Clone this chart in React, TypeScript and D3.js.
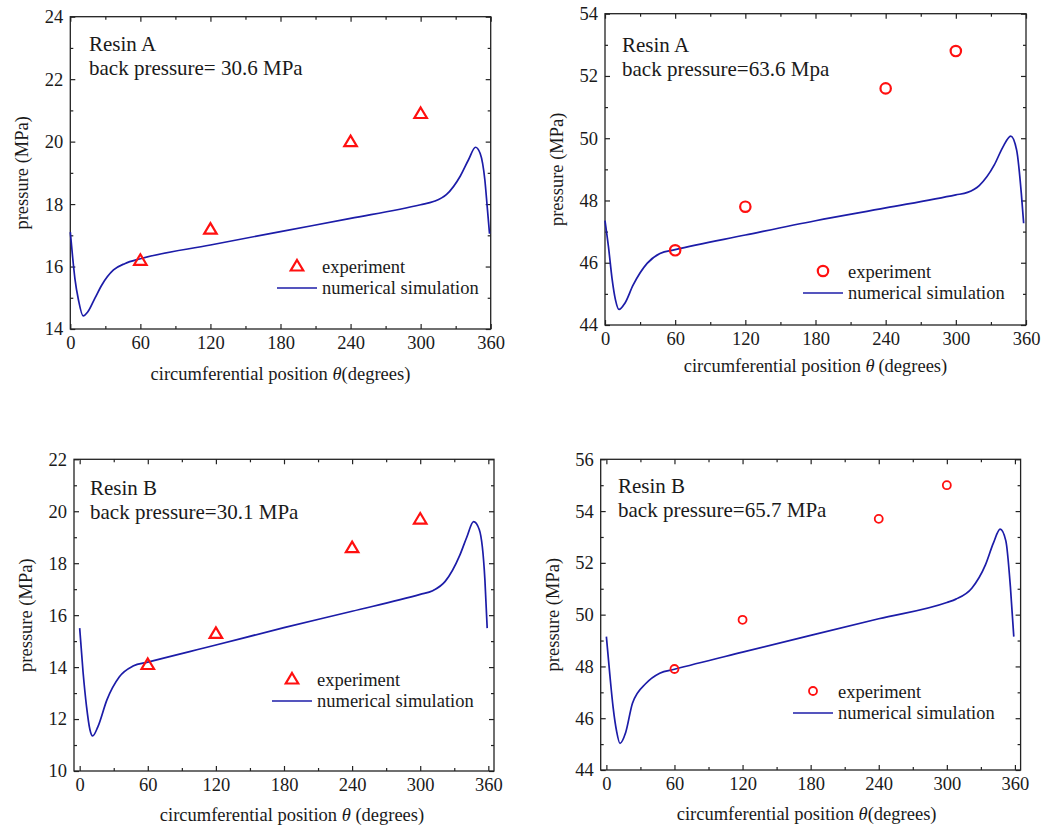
import React, { useRef, useEffect } from 'react';
import * as d3 from 'd3';

// experiment positions (degrees), shared by all four panels
const expTheta = [60, 120, 240, 300];

// Resin A, back pressure 30.6 MPa
const simThetaA30 = [0, 2, 4, 7, 11, 15, 21, 27, 37, 47, 60, 120, 180, 240, 300, 311, 322, 334, 341, 347, 351, 355, 357, 359];
const simA30 = [17.1, 16.3, 15.6, 14.93, 14.42, 14.55, 14.98, 15.41, 15.89, 16.1, 16.25, 16.69, 17.12, 17.54, 17.98, 18.08, 18.3, 18.9, 19.42, 19.82, 19.62, 18.77, 17.92, 17.05];
const expA30 = [16.2, 17.2, 20.0, 20.9];

// Resin A, back pressure 63.6 MPa
const simThetaA63 = [0, 3, 6, 9, 12, 17, 24, 36, 47, 60, 120, 180, 240, 300, 310, 320, 333, 340, 347, 352, 356, 358];
const simA63 = [47.35, 46.5, 45.5, 44.8, 44.5, 44.7, 45.28, 45.98, 46.3, 46.42, 46.89, 47.35, 47.76, 48.18, 48.26, 48.48, 49.15, 49.7, 50.07, 49.62, 48.23, 47.27];
const expA63 = [46.4, 47.8, 51.6, 52.8];

// Resin B, back pressure 30.1 MPa
const simThetaB30 = [0, 3, 6, 9, 11.4, 16, 24, 35, 47, 60, 120, 180, 240, 300, 311, 322, 335, 341, 347, 352, 357, 359];
const simB30 = [15.5, 13.8, 12.5, 11.6, 11.35, 11.7, 12.74, 13.63, 14.04, 14.19, 14.85, 15.52, 16.15, 16.8, 16.94, 17.3, 18.32, 19.0, 19.6, 19.3, 17.35, 15.5];
const expB30 = [14.1, 15.3, 18.6, 19.7];

// Resin B, back pressure 65.7 MPa
const simThetaB65 = [0, 3, 6, 9, 12, 17, 23, 35, 47, 60, 120, 180, 240, 300, 308, 322, 334, 341, 347, 352, 356, 359];
const simB65 = [49.15, 47.7, 46.4, 45.5, 45.03, 45.45, 46.58, 47.35, 47.74, 47.89, 48.55, 49.2, 49.84, 50.47, 50.6, 51.02, 51.92, 52.76, 53.3, 52.85, 51.08, 49.15];
const expB65 = [47.9, 49.8, 53.7, 55.0];

const xTicks = [0, 60, 120, 180, 240, 300, 360];
const xMinorTicks = [30, 90, 150, 210, 270, 330];

const panels = [
  {
    box: [70.3, 490.7, 16.7, 329], xDomain: [0, 360], yDomain: [14, 24],
    simTheta: simThetaA30, sim: simA30, exp: expA30, marker: 'triangle',
    lines: ['Resin A', 'back pressure= 30.6 MPa'], note: [89, 51],
    legend: [297, 266], titleDx: 0, titleGap: 51, titleSep: '',
  },
  {
    box: [605, 1026, 13.7, 325], xDomain: [0, 360], yDomain: [44, 54],
    simTheta: simThetaA63, sim: simA63, exp: expA63, marker: 'circle',
    lines: ['Resin A', 'back pressure=63.6 Mpa'], note: [622, 52],
    legend: [823, 271], titleDx: 0, titleGap: 47, titleSep: '\u2009',
  },
  {
    box: [74, 494, 459.3, 771], xDomain: [-5, 365], yDomain: [10, 22],
    simTheta: simThetaB30, sim: simB30, exp: expB30, marker: 'triangle',
    lines: ['Resin B', 'back pressure=30.1 MPa'], note: [90, 495],
    legend: [292, 679], titleDx: 8, titleGap: 50, titleSep: ' ',
  },
  {
    box: [600.7, 1020.6, 459.3, 770], xDomain: [-5, 365], yDomain: [44, 56],
    simTheta: simThetaB65, sim: simB65, exp: expB65, marker: 'smallCircle',
    lines: ['Resin B', 'back pressure=65.7 MPa'], note: [618, 493],
    legend: [813, 691], titleDx: -4, titleGap: 50, titleSep: '',
  },
];

const FONT = '"Liberation Serif", "Times New Roman", serif';
const RED = '#ff1010';
const BLUE = '#1c1ca8';
const INK = '#1a1a1a';

function trianglePath(cx, cy) {
  const s = 12.5, h = 10.5;
  return `M${cx},${cy - (2 * h) / 3}L${cx + s / 2},${cy + h / 3}L${cx - s / 2},${cy + h / 3}Z`;
}

function drawMarker(g, kind, cx, cy) {
  if (kind === 'triangle') {
    g.append('path').attr('d', trianglePath(cx, cy + 1))
      .attr('fill', 'none').attr('stroke', RED).attr('stroke-width', 2.2)
      .attr('stroke-linejoin', 'miter');
  } else {
    const r = kind === 'circle' ? 5.2 : 4;
    g.append('circle').attr('cx', cx).attr('cy', cy).attr('r', r)
      .attr('fill', 'none').attr('stroke', RED).attr('stroke-width', kind === 'circle' ? 2.2 : 1.8);
  }
}

function drawPanel(svg, p) {
  const [left, right, top, bottom] = p.box;
  const x = d3.scaleLinear().domain(p.xDomain).range([left, right]);
  const y = d3.scaleLinear().domain(p.yDomain).range([bottom, top]);
  const [y0, y1] = p.yDomain;
  const yTicks = d3.range(y0, y1 + 0.01, 2);
  const yMinorTicks = d3.range(y0 + 1, y1, 2);

  const g = svg.append('g');

  const styleAxis = (sel) => {
    sel.select('.domain').remove();
    sel.selectAll('line').attr('stroke', '#222').attr('stroke-width', 1.2);
    sel.selectAll('text').attr('font-family', FONT).attr('font-size', 18.5).attr('fill', INK);
  };

  // major ticks, inward on all sides
  g.append('g').attr('transform', `translate(0,${bottom})`)
    .call(d3.axisBottom(x).tickValues(xTicks).tickSize(-5).tickPadding(7.2).tickFormat(d3.format('d')))
    .call(styleAxis);
  g.append('g').attr('transform', `translate(0,${top})`)
    .call(d3.axisTop(x).tickValues(xTicks).tickSize(-5).tickFormat(() => ''))
    .call(styleAxis);
  g.append('g').attr('transform', `translate(${left},0)`)
    .call(d3.axisLeft(y).tickValues(yTicks).tickSize(-5).tickPadding(7).tickFormat(d3.format('d')))
    .call(styleAxis);
  g.append('g').attr('transform', `translate(${right},0)`)
    .call(d3.axisRight(y).tickValues(yTicks).tickSize(-5).tickFormat(() => ''))
    .call(styleAxis);

  // minor ticks
  g.append('g').attr('transform', `translate(0,${bottom})`)
    .call(d3.axisBottom(x).tickValues(xMinorTicks).tickSize(-3).tickFormat(() => ''))
    .call(styleAxis);
  g.append('g').attr('transform', `translate(0,${top})`)
    .call(d3.axisTop(x).tickValues(xMinorTicks).tickSize(-3).tickFormat(() => ''))
    .call(styleAxis);
  g.append('g').attr('transform', `translate(${left},0)`)
    .call(d3.axisLeft(y).tickValues(yMinorTicks).tickSize(-3).tickFormat(() => ''))
    .call(styleAxis);
  g.append('g').attr('transform', `translate(${right},0)`)
    .call(d3.axisRight(y).tickValues(yMinorTicks).tickSize(-3).tickFormat(() => ''))
    .call(styleAxis);

  // frame
  g.append('rect').attr('x', left).attr('y', top)
    .attr('width', right - left).attr('height', bottom - top)
    .attr('fill', 'none').attr('stroke', '#222').attr('stroke-width', 1.3);

  // simulation curve
  const line = d3.line()
    .x((d) => x(d[0]))
    .y((d) => y(d[1]))
    .curve(d3.curveMonotoneX);
  g.append('path')
    .datum(p.simTheta.map((t, i) => [t, p.sim[i]]))
    .attr('d', line)
    .attr('fill', 'none').attr('stroke', BLUE).attr('stroke-width', 1.7);

  // experiment markers
  expTheta.forEach((t, i) => drawMarker(g, p.marker, x(t), y(p.exp[i])));

  // annotation
  const [nx, ny] = p.note;
  p.lines.forEach((s, i) => {
    g.append('text').attr('x', nx).attr('y', ny + i * 23.5)
      .attr('font-family', FONT).attr('font-size', 21).attr('fill', INK).text(s);
  });

  // legend
  const [lx, ly] = p.legend;
  drawMarker(g, p.marker, lx, ly);
  g.append('text').attr('x', lx + 25).attr('y', ly + 6.5)
    .attr('font-family', FONT).attr('font-size', 18.5).attr('fill', INK).text('experiment');
  g.append('line').attr('x1', lx - 20).attr('x2', lx + 20)
    .attr('y1', ly + 22).attr('y2', ly + 22)
    .attr('stroke', BLUE).attr('stroke-width', 1.7);
  g.append('text').attr('x', lx + 25).attr('y', ly + 28)
    .attr('font-family', FONT).attr('font-size', 18.5).attr('fill', INK).text('numerical simulation');

  // axis titles
  const xt = g.append('text')
    .attr('x', (left + right) / 2 + p.titleDx).attr('y', bottom + p.titleGap)
    .attr('text-anchor', 'middle').attr('font-family', FONT).attr('font-size', 18.5).attr('fill', INK);
  xt.append('tspan').text('circumferential position ');
  xt.append('tspan').attr('font-style', 'italic').text('\u03b8');
  xt.append('tspan').text(p.titleSep + '(degrees)');

  g.append('text')
    .attr('transform', `translate(${left - 42},${(top + bottom) / 2}) rotate(-90)`)
    .attr('text-anchor', 'middle').attr('font-family', FONT).attr('font-size', 18.5).attr('fill', INK)
    .text('pressure (MPa)');
}

export default function App() {
  const ref = useRef(null);

  useEffect(() => {
    const svg = d3.select(ref.current);
    svg.selectAll('*').remove();
    panels.forEach((p) => drawPanel(svg, p));
  }, []);

  return (
    <svg
      ref={ref}
      width={1054}
      height={828}
      style={{ position: 'absolute', left: 0, top: 0, background: '#fff' }}
    />
  );
}
